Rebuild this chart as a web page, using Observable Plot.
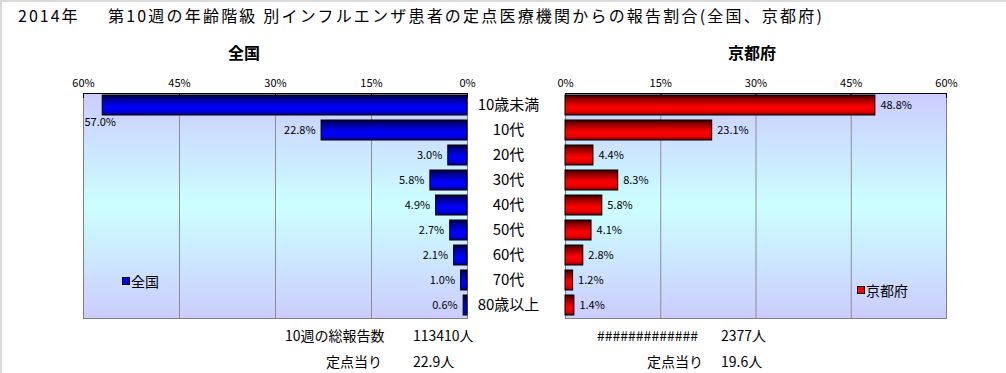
<!DOCTYPE html>
<html><head><meta charset="utf-8">
<script src="https://cdn.jsdelivr.net/npm/d3@7"></script>
<script src="https://cdn.jsdelivr.net/npm/@observablehq/plot@0.6"></script>
<style>
body{margin:0;background:#fff;}
#chart{position:relative;width:1006px;height:373px;overflow:hidden;font-family:"Noto Sans CJK JP","Noto Sans",sans-serif;color:#000;background:#fff;}
#chart svg.panel{position:absolute;left:0;top:0;}
.t{position:absolute;white-space:nowrap;line-height:20px;height:20px;}
.sq{position:absolute;width:6px;height:6px;border:1px solid #000;}
</style>
</head><body>
<svg width="0" height="0" style="position:absolute">
  <defs>
    <linearGradient id="bgGrad" x1="0" y1="0" x2="0" y2="1">
      <stop offset="0" stop-color="#ccccff"/>
      <stop offset="0.5" stop-color="#ccffff"/>
      <stop offset="1" stop-color="#ccccff"/>
    </linearGradient>
    <linearGradient id="blueGrad" x1="0" y1="0" x2="0" y2="1">
      <stop offset="0" stop-color="#000033"/>
      <stop offset="0.2" stop-color="#000090"/>
      <stop offset="0.6" stop-color="#0000ff"/>
      <stop offset="0.85" stop-color="#0000e0"/>
      <stop offset="1" stop-color="#000070"/>
    </linearGradient>
    <linearGradient id="redGrad" x1="0" y1="0" x2="0" y2="1">
      <stop offset="0" stop-color="#330000"/>
      <stop offset="0.2" stop-color="#900000"/>
      <stop offset="0.6" stop-color="#ff0000"/>
      <stop offset="0.85" stop-color="#e00000"/>
      <stop offset="1" stop-color="#700000"/>
    </linearGradient>
  </defs>
</svg>
<div id="chart"></div>
<script>
const categories = ["10歳未満","10代","20代","30代","40代","50代","60代","70代","80歳以上"];
const zenkoku = [57.0,22.8,3.0,5.8,4.9,2.7,2.1,1.0,0.6];
const kyoto = [48.8,23.1,4.4,8.3,5.8,4.1,2.8,1.2,1.4];
const xTicks = [0,15,30,45,60];
const titleYear = "2014年";
const titleMain = "第10週の年齢階級 別インフルエンザ患者の定点医療機関からの報告割合(全国、京都府)";
const panelTitles = ["全国","京都府"];
const footLeft = [["10週の総報告数","113410人"],["定点当り","22.9人"]];
const footRight = [["#############","2377人"],["定点当り","19.6人"]];

const chart = document.getElementById("chart");
const font = '"Noto Sans CJK JP","Noto Sans",sans-serif';
const fmt = d => d.toFixed(1) + "%";

function addText(txt, x, y, opts = {}) {
  const d = document.createElement("div");
  d.className = "t";
  d.textContent = txt;
  d.style.left = x + "px";
  d.style.top = (y - 10) + "px";
  d.style.fontSize = (opts.size || 14) + "px";
  if (opts.bold) d.style.fontWeight = "bold";
  if (opts.ls) d.style.letterSpacing = opts.ls + "px";
  if (opts.center) d.style.transform = "translateX(-50%)";
  chart.appendChild(d);
  return d;
}

function panel(values, side) {
  const data = categories.map((c, i) => ({cat: c, v: values[i]}));
  const left = side === "left";
  const ml = left ? 83 : 565, mr = left ? 1006 - 467 : 1006 - 946;
  const marks = [
    Plot.frame({fill: "url(#bgGrad)"}),
    Plot.gridX(xTicks, {stroke: "#8c8c8c", strokeOpacity: 1}),
    Plot.frame({stroke: "#808080"}),
    Plot.frame({anchor: "top", stroke: "#000"}),
    Plot.axisX({anchor: "top", ticks: xTicks, tickFormat: d => d + "%", tickSize: 0, tickPadding: 7, fontSize: 11, label: null}),
    Plot.axisX({anchor: "top", ticks: xTicks, tickFormat: () => "", tickSize: -4, stroke: "#000", label: null}),
    Plot.barX(data, {x: "v", y: "cat", fill: left ? "url(#blueGrad)" : "url(#redGrad)", stroke: "#000", strokeWidth: 1})
  ];
  if (left) {
    marks.push(Plot.text(data.filter(d => d.v < 50), {x: "v", y: "cat", text: d => fmt(d.v), textAnchor: "end", dx: -6, fontSize: 11, fill: "#000"}));
    marks.push(Plot.text(data.filter(d => d.v >= 50), {y: "cat", frameAnchor: "left", text: d => fmt(d.v), textAnchor: "start", dx: 1, dy: 17, fontSize: 11, fill: "#000"}));
    marks.push(Plot.text(data, {y: "cat", text: "cat", frameAnchor: "right", dx: 41, textAnchor: "middle", fontSize: 15, fill: "#000"}));
  } else {
    marks.push(Plot.text(data, {x: "v", y: "cat", text: d => fmt(d.v), textAnchor: "start", dx: 5, fontSize: 11, fill: "#000"}));
  }
  const svg = Plot.plot({
    width: 1006, height: 373,
    marginLeft: ml, marginRight: mr, marginTop: 93, marginBottom: 55,
    x: {domain: [0, 60], reverse: left, label: null},
    y: {domain: categories, paddingInner: 0.2, paddingOuter: 0.1, axis: null, label: null},
    style: {fontFamily: font, background: "transparent", overflow: "visible", color: "#000"},
    marks
  });
  svg.classList.add("panel");
  chart.appendChild(svg);
}

panel(zenkoku, "left");
panel(kyoto, "right");

// border lines (top / left)
const bt = document.createElement("div");
bt.style.cssText = "position:absolute;left:0;top:0;width:1006px;height:2px;background:#d9d9d9";
chart.appendChild(bt);
const bl = document.createElement("div");
bl.style.cssText = "position:absolute;left:0;top:0;width:2px;height:373px;background:#d9d9d9";
chart.appendChild(bl);

addText(titleYear, 18, 15, {size: 16, ls: 2});
addText(titleMain, 108, 15, {size: 16, ls: 2.2});
addText(panelTitles[0], 244, 52, {size: 16, bold: true, center: true});
addText(panelTitles[1], 752, 52, {size: 16, bold: true, center: true});

// legends
function legend(label, color, x, y) {
  const s = document.createElement("div");
  s.className = "sq";
  s.style.left = x + "px";
  s.style.top = (y - 4) + "px";
  s.style.background = color;
  chart.appendChild(s);
  addText(label, x + 9, y, {size: 14});
}
legend(panelTitles[0], "#0000ff", 122, 281);
legend(panelTitles[1], "#ff0000", 857, 290);

addText(footLeft[0][0], 285, 335, {size: 14});
addText(footLeft[0][1], 413, 335, {size: 14});
addText(footLeft[1][0], 326, 361, {size: 14});
addText(footLeft[1][1], 413, 361, {size: 14});
addText(footRight[0][0], 597, 335, {size: 14});
addText(footRight[0][1], 721, 335, {size: 14});
addText(footRight[1][0], 647, 361, {size: 14});
addText(footRight[1][1], 721, 361, {size: 14});
</script>
</body></html>
